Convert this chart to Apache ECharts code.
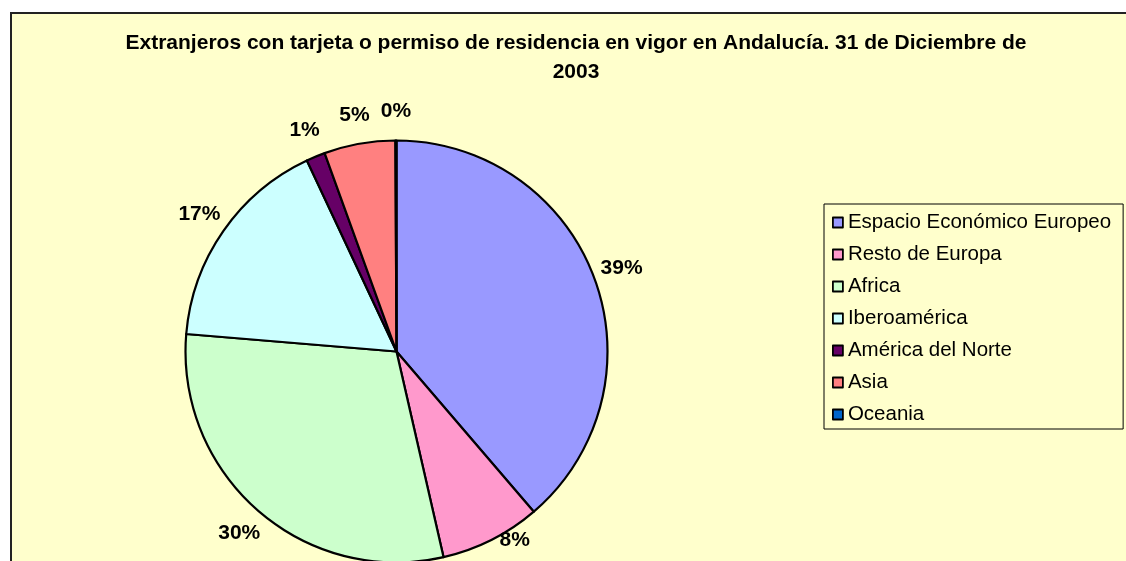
<!DOCTYPE html>
<html>
<head>
<meta charset="utf-8">
<script src="https://cdn.jsdelivr.net/npm/echarts@6/dist/echarts.min.js"></script>
<style>
  html, body { margin: 0; padding: 0; background: #fff; }
  #chart { width: 1126px; height: 561px; }
</style>
</head>
<body>
<div id="chart"></div>
<script>
	// regiones de procedencia y su peso (%) a 31/12/2003
	var regiones = ['Espacio Económico Europeo', 'Resto de Europa', 'Africa', 'Iberoamérica', 'América del Norte', 'Asia', 'Oceania'];
	var porcentajes = [38.72, 7.7, 29.9, 16.7, 1.45, 5.45, 0.08];
	var colores = ['#9999FF', '#FF99CC', '#CCFFCC', '#CCFFFF', '#660066', '#FF8080', '#0066CC'];

	var fuente = '"Liberation Sans", Arial, sans-serif';

	var datos = regiones.map(function (n, i) {
		return { name: n, value: porcentajes[i] };
	});

	var chart = echarts.init(document.getElementById('chart'));

	var option = {
		animation: false,
		color: colores,
		graphic: [{
			type: 'rect',
			z: -10,
			silent: true,
			shape: { x: 11, y: 13, width: 1300, height: 700 },
			style: { fill: '#FFFFCC', stroke: '#222', lineWidth: 2 }
		}],
		title: {
			text: 'Extranjeros con tarjeta o permiso de residencia en vigor en Andalucía. 31 de Diciembre de\n2003',
			left: 576,
			top: 29,
			padding: 0,
			textAlign: 'center',
			textStyle: {
				fontFamily: fuente,
				fontSize: 21,
				fontWeight: 'bold',
				color: '#000',
				lineHeight: 29
			}
		},
		legend: {
			orient: 'vertical',
			left: 824,
			top: 204,
			padding: [8, 12, 4, 8],
			borderColor: '#000',
			borderWidth: 1,
			icon: 'rect',
			itemWidth: 10,
			itemHeight: 10,
			itemGap: 11,
			selectedMode: false,
			itemStyle: { borderColor: '#000', borderWidth: 1.8 },
			textStyle: {
				fontFamily: fuente,
				fontSize: 20.5,
				lineHeight: 20,
				color: '#000'
			},
			data: regiones
		},
		series: [
			{
				// tarta
				type: 'pie',
				center: [396.5, 351.5],
				radius: 211,
				startAngle: 90,
				clockwise: true,
				avoidLabelOverlap: false,
				silent: true,
				itemStyle: { borderColor: '#000', borderWidth: 2.2 },
				label: { show: false },
				labelLine: { show: false },
				data: datos
			},
			{
				// solo etiquetas de porcentaje, a la distancia de las de Excel
				type: 'pie',
				center: [396.5, 351.5],
				radius: [0, 474],
				startAngle: 90,
				clockwise: true,
				avoidLabelOverlap: false,
				silent: true,
				itemStyle: { color: 'rgba(0,0,0,0)', borderWidth: 0 },
				label: {
					show: true,
					position: 'inside',
					fontFamily: fuente,
					fontSize: 21,
					fontWeight: 'bold',
					color: '#000',
					formatter: function (p) {
						return Math.round(p.percent) + '%';
					}
				},
				labelLine: { show: false },
				labelLayout: function (p) {
					// que no se salga por abajo, como hace Excel
					var h = chart.getHeight();
					if (p.labelRect.y + p.labelRect.height > h - 10) {
						return {
							y: h - 10 - p.labelRect.height / 2,
							dx: p.labelRect.width / 3
						};
					}
				},
				data: datos
			}
		]
	};

	chart.setOption(option);
</script>
</body>
</html>
